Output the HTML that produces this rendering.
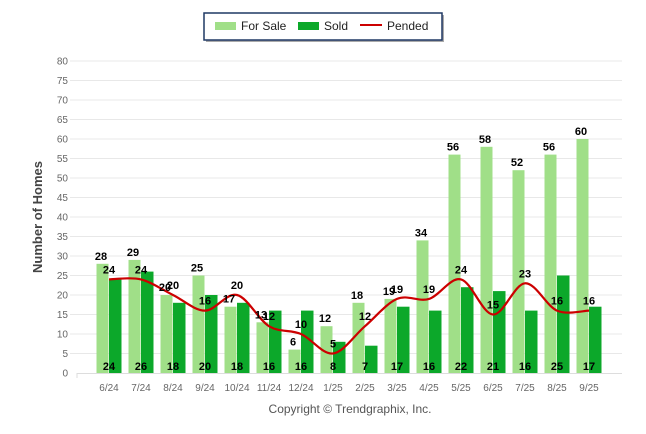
<!DOCTYPE html>
<html><head><meta charset="utf-8"><style>
html,body{margin:0;padding:0;background:#fff;}
svg{display:block;font-family:"Liberation Sans",sans-serif;}
</style></head><body>
<svg id="s" width="646" height="434" viewBox="0 0 646 434" xmlns="http://www.w3.org/2000/svg">
<rect x="206" y="15" width="238" height="27" fill="#aaa"/>
<rect x="204" y="13" width="238" height="27" fill="#fff" stroke="#1f3864" stroke-width="1.5"/>
<rect x="215" y="22" width="21" height="8" fill="#a0df88"/>
<text x="241" y="30" font-size="12" fill="#222">For Sale</text>
<rect x="298" y="22" width="21" height="8" fill="#0ca82a"/>
<text x="324" y="30" font-size="12" fill="#222">Sold</text>
<line x1="360" y1="25" x2="382" y2="25" stroke="#cc0000" stroke-width="2"/>
<text x="387" y="30" font-size="12" fill="#222">Pended</text>
<g id="grid"></g>
<g id="bars"></g>
<path id="line" fill="none" stroke="#cc0000" stroke-width="2.2"/>
<g id="labels" font-size="11" font-weight="bold" fill="#000" text-anchor="middle"></g>
<text x="0" y="0" transform="translate(42,217) rotate(-90)" text-anchor="middle" font-size="13" font-weight="bold" fill="#444">Number of Homes</text>
<text x="350" y="413" text-anchor="middle" font-size="12" fill="#555">Copyright © Trendgraphix, Inc.</text>
</svg>
<script>
var ns="http://www.w3.org/2000/svg";
function el(p,t,a,txt){var e=document.createElementNS(ns,t);for(var k in a)e.setAttribute(k,a[k]);if(txt!==undefined)e.textContent=txt;document.getElementById(p).appendChild(e);}
var cats=["6/24","7/24","8/24","9/24","10/24","11/24","12/24","1/25","2/25","3/25","4/25","5/25","6/25","7/25","8/25","9/25"];
var fs=[28,29,20,25,17,13,6,12,18,19,34,56,58,52,56,60];
var sd=[24,26,18,20,18,16,16,8,7,17,16,22,21,16,25,17];
var pd=[24,24,20,16,20,12,10,5,12,19,19,24,15,23,16,16];
function Y(v){return 373-3.9*v;}
for(var v=0;v<=80;v+=5){var y=Y(v);
 if(v>0)el("grid","line",{x1:70,x2:622,y1:y,y2:y,stroke:"#e8e8e8","stroke-width":1});
 el("grid","text",{x:68,y:y+3.5,"font-size":10,fill:"#666","text-anchor":"end"},String(v));}
el("grid","line",{x1:77,x2:622,y1:373.5,y2:373.5,stroke:"#ddd","stroke-width":1});
el("grid","line",{x1:77,x2:77,y1:373,y2:378,stroke:"#ddd","stroke-width":1});
var pts=[];
for(var i=0;i<16;i++){var c=109+32*i;
 el("bars","rect",{x:c-12.5,y:Y(fs[i]),width:12,height:3.9*fs[i],fill:"#a0df88"});
 el("bars","rect",{x:c,y:Y(sd[i]),width:12.5,height:3.9*sd[i],fill:"#0ca82a"});
 el("grid","text",{x:c,y:391,"font-size":10,fill:"#666","text-anchor":"middle"},cats[i]);
 pts.push([c,Y(pd[i])]);
 el("labels","text",{x:c-8,y:Y(fs[i])-4},String(fs[i]));
 el("labels","text",{x:c,y:Y(pd[i])-6},String(pd[i]));
 el("labels","text",{x:c,y:370},String(sd[i]));
}
var d="M"+pts[0][0]+","+pts[0][1];
for(var i=0;i<15;i++){var p0=pts[Math.max(0,i-1)],p1=pts[i],p2=pts[i+1],p3=pts[Math.min(15,i+2)];
 var c1=[p1[0]+(p2[0]-p0[0])/6,p1[1]+(p2[1]-p0[1])/6],c2=[p2[0]-(p3[0]-p1[0])/6,p2[1]-(p3[1]-p1[1])/6];
 d+=" C"+c1+" "+c2+" "+p2;}
document.getElementById("line").setAttribute("d",d);
</script>
</body></html>
